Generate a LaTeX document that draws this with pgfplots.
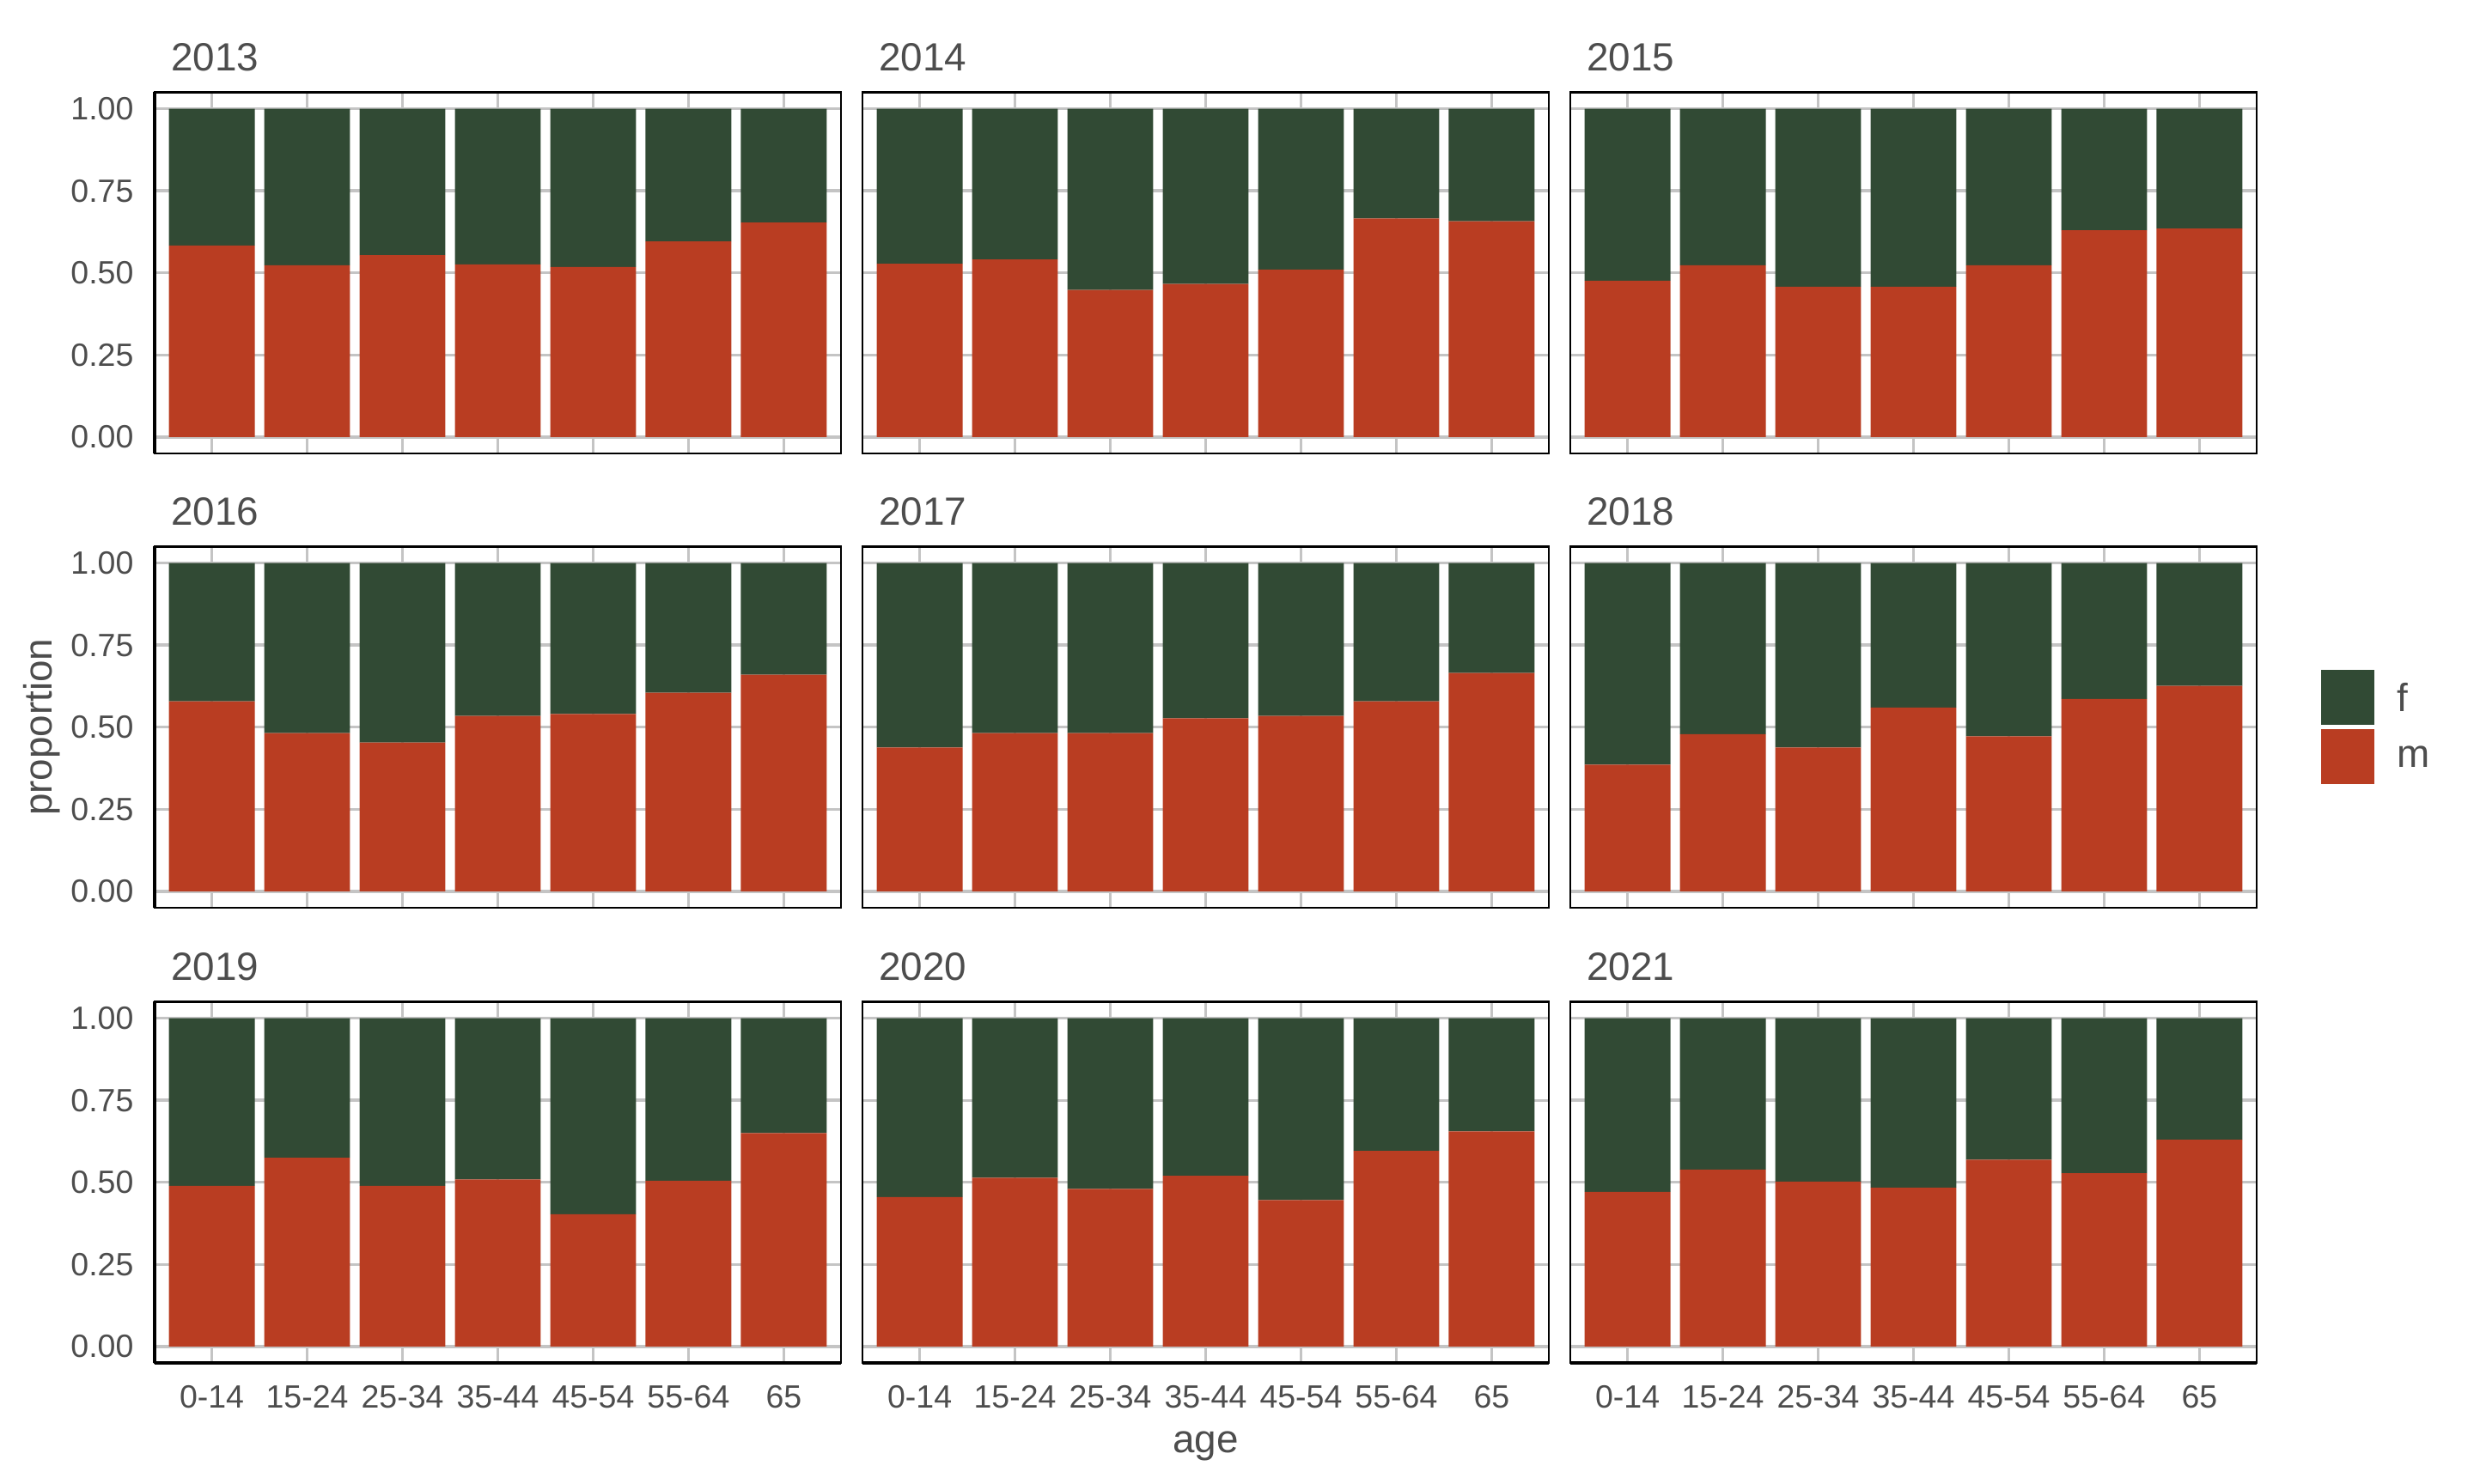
\documentclass[border=0pt]{standalone}
\usepackage{fontspec}
\setmainfont{Liberation Sans}
\usepackage{pgfplots}
\usepackage{pgfplotstable}
\pgfplotsset{compat=1.18}

\definecolor{mred}{HTML}{B93D22}
\definecolor{fgreen}{HTML}{314A34}
\definecolor{gridc}{HTML}{C4C4C4}
\definecolor{tcol}{HTML}{4D4D4D}

% proportion of m and f per age group (x = 1..7: 0-14 ... 65)
\pgfplotstableread{
x m f
1 0.583 0.417
2 0.523 0.477
3 0.554 0.446
4 0.526 0.474
5 0.518 0.482
6 0.596 0.404
7 0.653 0.347
}\tabA
\pgfplotstableread{
x m f
1 0.528 0.472
2 0.541 0.459
3 0.448 0.552
4 0.466 0.534
5 0.510 0.490
6 0.666 0.334
7 0.657 0.343
}\tabB
\pgfplotstableread{
x m f
1 0.476 0.524
2 0.523 0.477
3 0.458 0.542
4 0.458 0.542
5 0.523 0.477
6 0.630 0.370
7 0.635 0.365
}\tabC
\pgfplotstableread{
x m f
1 0.579 0.421
2 0.482 0.518
3 0.453 0.547
4 0.534 0.466
5 0.540 0.460
6 0.605 0.395
7 0.660 0.340
}\tabD
\pgfplotstableread{
x m f
1 0.438 0.562
2 0.482 0.518
3 0.482 0.518
4 0.527 0.473
5 0.534 0.466
6 0.579 0.421
7 0.665 0.335
}\tabE
\pgfplotstableread{
x m f
1 0.386 0.614
2 0.479 0.521
3 0.438 0.562
4 0.560 0.440
5 0.472 0.528
6 0.586 0.414
7 0.626 0.374
}\tabF
\pgfplotstableread{
x m f
1 0.489 0.511
2 0.575 0.425
3 0.489 0.511
4 0.509 0.491
5 0.403 0.597
6 0.505 0.495
7 0.650 0.350
}\tabG
\pgfplotstableread{
x m f
1 0.455 0.545
2 0.514 0.486
3 0.480 0.520
4 0.520 0.480
5 0.446 0.554
6 0.596 0.404
7 0.655 0.345
}\tabH
\pgfplotstableread{
x m f
1 0.471 0.529
2 0.539 0.461
3 0.502 0.498
4 0.484 0.516
5 0.569 0.431
6 0.528 0.472
7 0.630 0.370
}\tabI

\newcommand{\fsmall}{\fontsize{9}{11}\selectfont}
\newcommand{\fnorm}{\fontsize{11}{13}\selectfont}

\pgfplotsset{
  panel/.style={
    anchor=south west, scale only axis,
    width=191.76pt, height=100.92pt,
    xmin=0.4, xmax=7.6, ymin=-0.05, ymax=1.05,
    ybar stacked, bar width=0.9,
    xtick={1,...,7}, ytick={0,0.25,0.5,0.75,1},
    xticklabels={}, yticklabels={},
    major tick length=0pt, tick style={draw=none},
    axis on top=false,
    grid=major, major grid style={gridc, line width=0.8pt},
    axis line style={black, line width=0.5pt},
    tick label style={font=\fsmall, text=tcol, inner sep=0pt},
    yticklabel style={anchor=east, xshift=-5.7pt},
    xticklabel style={anchor=north, yshift=-6.2pt},
    every axis title shift=0pt,
    title style={at={(axis description cs:0.0230,1.0595)}, anchor=base west,
      inner sep=0pt, font=\fnorm, text=tcol},
    label style={font=\fnorm, text=tcol, inner sep=0pt},
  },
  leftcol/.style={
    yticklabels={0.00,0.25,0.50,0.75,1.00},
    after end axis/.append code={\draw[black, line width=1.1pt] (rel axis cs:0,0) -- (rel axis cs:0,1);},
  },
  bottomrow/.style={
    xticklabels={0-14,15-24,25-34,35-44,45-54,55-64,65},
    after end axis/.append code={\draw[black, line width=1.1pt] (rel axis cs:0,0) -- (rel axis cs:1,0);},
  },
}

% #1 table, #2 year, #3 x, #4 y, #5 extra options
\newcommand{\panel}[5]{%
  \begin{axis}[panel, at={(#3,#4)}, title={#2}, #5]
    \addplot[fill=mred, draw=none] table[x=x, y=m] {#1};
    \addplot[fill=fgreen, draw=none] table[x=x, y=f] {#1};
  \end{axis}}

\begin{document}
\begin{tikzpicture}
\path[use as bounding box] (0,0) rectangle (691.2pt,414.72pt);

\panel{\tabA}{2013}{43.2pt}{288pt}{leftcol}
\panel{\tabB}{2014}{240.96pt}{288pt}{}
\panel{\tabC}{2015}{438.72pt}{288pt}{}

\panel{\tabD}{2016}{43.2pt}{161.04pt}{leftcol,
  ylabel={proportion},
  ylabel style={at={(axis description cs:-0.1495,0.5)}, anchor=base, rotate=0}}
\panel{\tabE}{2017}{240.96pt}{161.04pt}{}
\panel{\tabF}{2018}{438.72pt}{161.04pt}{
  legend entries={m,f}, reverse legend, legend cell align=left,
  legend image code/.code={\fill[#1] (0pt,-7.0pt) rectangle (14.88pt,8.36pt);},
  legend style={at={(axis description cs:1.0939,0.5)}, anchor=west,
    draw=none, fill=none, inner sep=0pt, outer sep=0pt,
    row sep=1.2pt, column sep=6.4pt,
    font=\fnorm, text=tcol, nodes={inner sep=0pt}}}

\panel{\tabG}{2019}{43.2pt}{33.84pt}{leftcol, bottomrow}
\panel{\tabH}{2020}{240.96pt}{33.84pt}{bottomrow,
  xlabel={age},
  xlabel style={at={(axis description cs:0.5,-0.2497)}, anchor=base}}
\panel{\tabI}{2021}{438.72pt}{33.84pt}{bottomrow}

\end{tikzpicture}
\end{document}
